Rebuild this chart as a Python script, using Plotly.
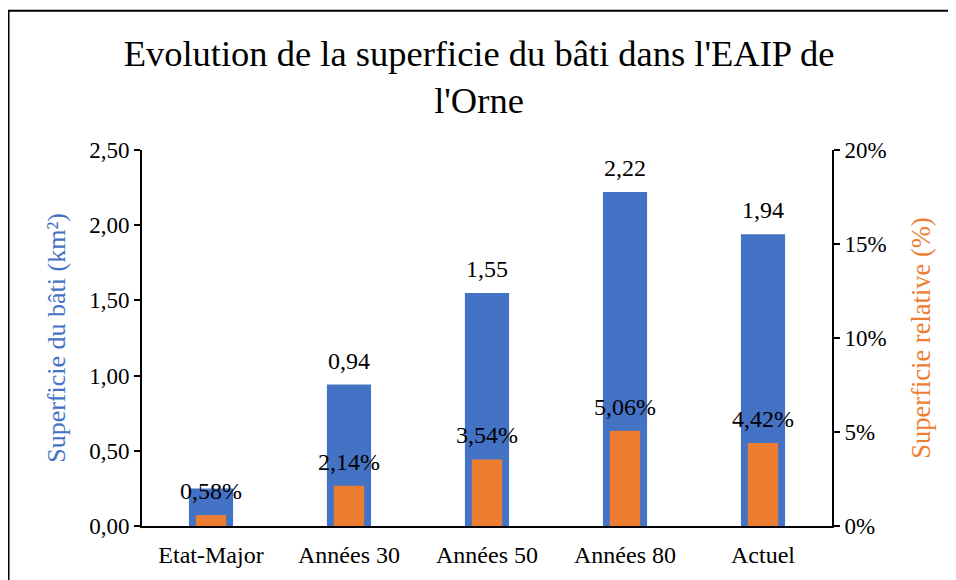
import plotly.graph_objects as go

categories = ["Etat-Major", "Années 30", "Années 50", "Années 80", "Actuel"]
surface_km2 = [0.25, 0.94, 1.55, 2.22, 1.94]
surface_pct = [0.58, 2.14, 3.54, 5.06, 4.42]
show_surface_label = [False, True, True, True, True]

title_text = "Evolution de la superficie du bâti dans l'EAIP de<br>l'Orne"
left_title = "Superficie du bâti (km²)"
right_title = "Superficie relative (%)"

BLUE = "#4472C4"
ORANGE = "#ED7D31"
FONT = "Liberation Serif, Times New Roman, serif"

def fr(v, nd=2):
    return f"{v:.{nd}f}".replace(".", ",")

fig = go.Figure()
fig.add_trace(go.Bar(x=categories, y=surface_km2, width=0.32, marker=dict(color=BLUE, line=dict(width=0)),
                     name="km2", yaxis="y", hoverinfo="skip"))
fig.add_trace(go.Bar(x=categories, y=surface_pct, width=0.22, marker=dict(color=ORANGE, line=dict(width=0)),
                     name="pct", yaxis="y2", hoverinfo="skip"))

annotations = []
for c, v, show in zip(categories, surface_km2, show_surface_label):
    if show:
        annotations.append(dict(x=c, y=v, xref="x", yref="y", text=fr(v), showarrow=False,
                                yanchor="middle", yshift=24, font=dict(family=FONT, size=24, color="black")))
for c, v in zip(categories, surface_pct):
    annotations.append(dict(x=c, y=v, xref="x", yref="y2", text=fr(v) + "%", showarrow=False,
                            yanchor="middle", yshift=24, font=dict(family=FONT, size=24, color="black")))

# page is offset by the 8px body margin
W, H = 948, 572
L, R, T, B = 134, 124, 142, 52
pw, ph = W - L - R, H - T - B
def px_to_paper_x(px):
    return (px - L) / pw
def px_to_paper_y(py):
    return (H - B - py) / ph

shapes = [
    dict(type="line", xref="paper", yref="paper", x0=px_to_paper_x(0), x1=px_to_paper_x(960),
         y0=px_to_paper_y(2), y1=px_to_paper_y(2), line=dict(color="black", width=2)),
    dict(type="line", xref="paper", yref="paper", x0=px_to_paper_x(0), x1=px_to_paper_x(0),
         y0=px_to_paper_y(2), y1=px_to_paper_y(590), line=dict(color="black", width=3)),
]

fig.update_layout(
    width=W, height=H,
    margin=dict(l=L, r=R, t=T, b=B),
    paper_bgcolor="white", plot_bgcolor="white",
    separators=", ",
    barmode="overlay",
    showlegend=False,
    font=dict(family=FONT, color="black"),
    title=dict(text=title_text, x=0.5 - 3 / W, xref="container", xanchor="center",
               y=1 - 58 / H, yref="container", yanchor="top",
               font=dict(family=FONT, size=36.5, color="black")),
    xaxis=dict(showline=True, linecolor="black", linewidth=2, showgrid=False,
               ticks="outside", ticklen=6, tickcolor="rgba(0,0,0,0)",
               tickfont=dict(family=FONT, size=24, color="black")),
    yaxis=dict(range=[0, 2.5], dtick=0.5, tickformat=".2f", showline=True, linecolor="black", linewidth=2,
               showgrid=False, zeroline=False, ticks="outside", ticklen=6, tickwidth=1.5, tickcolor="black",
               tickfont=dict(family=FONT, size=23, color="black"),
               title=dict(text=left_title, font=dict(family=FONT, size=26, color=BLUE), standoff=16)),
    yaxis2=dict(range=[0, 20], dtick=5, ticksuffix="%", overlaying="y", side="right", showline=True,
                linecolor="black", linewidth=2, showgrid=False, zeroline=False, ticks="outside", ticklen=6,
                tickwidth=1.5, tickcolor="black",
                tickfont=dict(family=FONT, size=23, color="black"),
                title=dict(text=right_title, font=dict(family=FONT, size=26.5, color=ORANGE), standoff=26)),
    annotations=annotations,
    shapes=shapes,
)

fig.write_html("out.html")
